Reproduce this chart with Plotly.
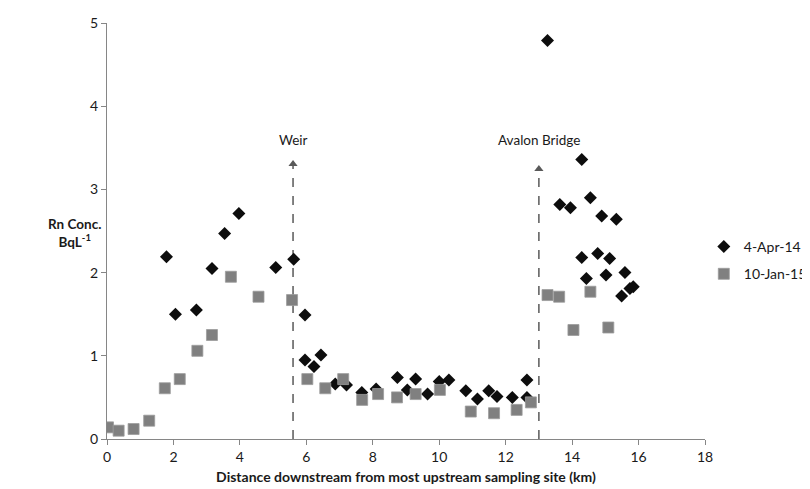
import plotly.graph_objects as go

# 4-Apr-14 survey
apr_x = [1.79, 2.06, 2.69, 3.16, 3.54, 3.97, 5.08, 5.62, 5.96, 5.96, 6.23, 6.44,
         6.87, 7.21, 7.67, 8.10, 8.74, 9.04, 9.29, 9.65, 10.00, 10.29, 10.80, 11.15,
         11.49, 11.74, 12.20, 12.64, 12.64, 13.26, 13.63, 13.95, 14.29, 14.29, 14.43,
         14.55, 14.77, 14.89, 15.02, 15.13, 15.33, 15.49, 15.59, 15.74, 15.84]
apr_y = [2.19, 1.50, 1.55, 2.05, 2.47, 2.71, 2.06, 2.16, 1.49, 0.95, 0.87, 1.01,
         0.66, 0.65, 0.56, 0.60, 0.74, 0.59, 0.72, 0.54, 0.69, 0.71, 0.58, 0.48,
         0.58, 0.51, 0.50, 0.71, 0.50, 4.79, 2.82, 2.78, 3.36, 2.18, 1.93,
         2.90, 2.23, 2.68, 1.97, 2.17, 2.64, 1.72, 2.00, 1.81, 1.83]

# 10-Jan-15 survey
jan_x = [0.03, 0.35, 0.80, 1.27, 1.74, 2.19, 2.72, 3.16, 3.73, 4.56, 5.57, 6.03,
         6.57, 7.11, 7.68, 8.16, 8.73, 9.29, 10.02, 10.95, 11.65, 12.33, 12.76,
         13.26, 13.61, 14.04, 14.55, 15.09]
jan_y = [0.14, 0.10, 0.12, 0.22, 0.61, 0.72, 1.06, 1.25, 1.95, 1.71, 1.67, 0.72,
         0.61, 0.72, 0.47, 0.54, 0.50, 0.54, 0.59, 0.33, 0.31, 0.35, 0.44,
         1.73, 1.71, 1.31, 1.77, 1.34]

# Landmarks
landmark_names = ["Weir", "Avalon Bridge"]
landmark_x = [5.6, 13.0]
landmark_top = [3.36, 3.30]
label_y = 3.59

x_ticks = [0, 2, 4, 6, 8, 10, 12, 14, 16, 18]
y_ticks = [0, 1, 2, 3, 4, 5]

FONT = "Lato"
AX = "#868686"

fig = go.Figure()

fig.add_trace(go.Scatter(
    x=apr_x, y=apr_y, mode="markers", name="4-Apr-14", legendgroup="a",
    marker=dict(symbol="diamond", size=10, color="#0d0d0d", line=dict(width=0)),
))
fig.add_trace(go.Scatter(
    x=jan_x, y=jan_y, mode="markers", name="10-Jan-15", legendgroup="b",
    marker=dict(symbol="square", size=11, color="#808080", line=dict(width=0.8, color="#9c9c9c")),
))

# dashed landmark lines + arrowheads
for lx, lt, name in zip(landmark_x, landmark_top, landmark_names):
    fig.add_shape(type="line", x0=lx, x1=lx, y0=0, y1=lt - 0.08,
                  line=dict(color="#595959", width=1.5, dash="dash"), layer="below")
    fig.add_annotation(x=lx, y=label_y, text=name, showarrow=False,
                       font=dict(family=FONT, size=13.5, color="#1a1a1a"))

fig.add_trace(go.Scatter(
    x=landmark_x, y=[t - 0.055 for t in landmark_top], mode="markers", showlegend=False,
    hoverinfo="skip",
    marker=dict(symbol="triangle-up", size=8, color="#595959", line=dict(width=0)),
))

fig.add_annotation(xref="paper", yref="paper", x=-0.102, y=0.495,
                   text="<b>Rn Conc.<br>BqL<sup>-1</sup></b>", showarrow=False,
                   font=dict(family=FONT, size=13.5, color="#1a1a1a"), align="center")

fig.update_layout(
    width=810, height=489,
    margin=dict(l=99, r=113, t=15, b=58, autoexpand=False),
    paper_bgcolor="white", plot_bgcolor="white",
    font=dict(family=FONT, size=14, color="#1a1a1a"),
    showlegend=True,
    legend=dict(x=0.998, y=0.50, xanchor="left", yanchor="top",
                traceorder="grouped", tracegroupgap=6,
                font=dict(family=FONT, size=14, color="#1a1a1a"),
                bgcolor="rgba(0,0,0,0)"),
    xaxis=dict(range=[0, 18], tickvals=x_ticks, ticks="outside", ticklen=5,
               tickcolor=AX, showline=True, linecolor=AX, linewidth=1.3,
               showgrid=False, zeroline=False, automargin=False,
               tickfont=dict(family=FONT, size=14, color="#1a1a1a"),
               title=dict(text="<b>Distance downstream from most upstream sampling site (km)</b>",
                          font=dict(family=FONT, size=14, color="#1a1a1a"), standoff=8)),
    yaxis=dict(range=[0, 5], tickvals=y_ticks, ticks="outside", ticklen=5,
               tickcolor=AX, showline=True, linecolor=AX, linewidth=1.3,
               showgrid=False, zeroline=False, automargin=False,
               tickfont=dict(family=FONT, size=14, color="#1a1a1a")),
)

fig.write_html("out.html")
